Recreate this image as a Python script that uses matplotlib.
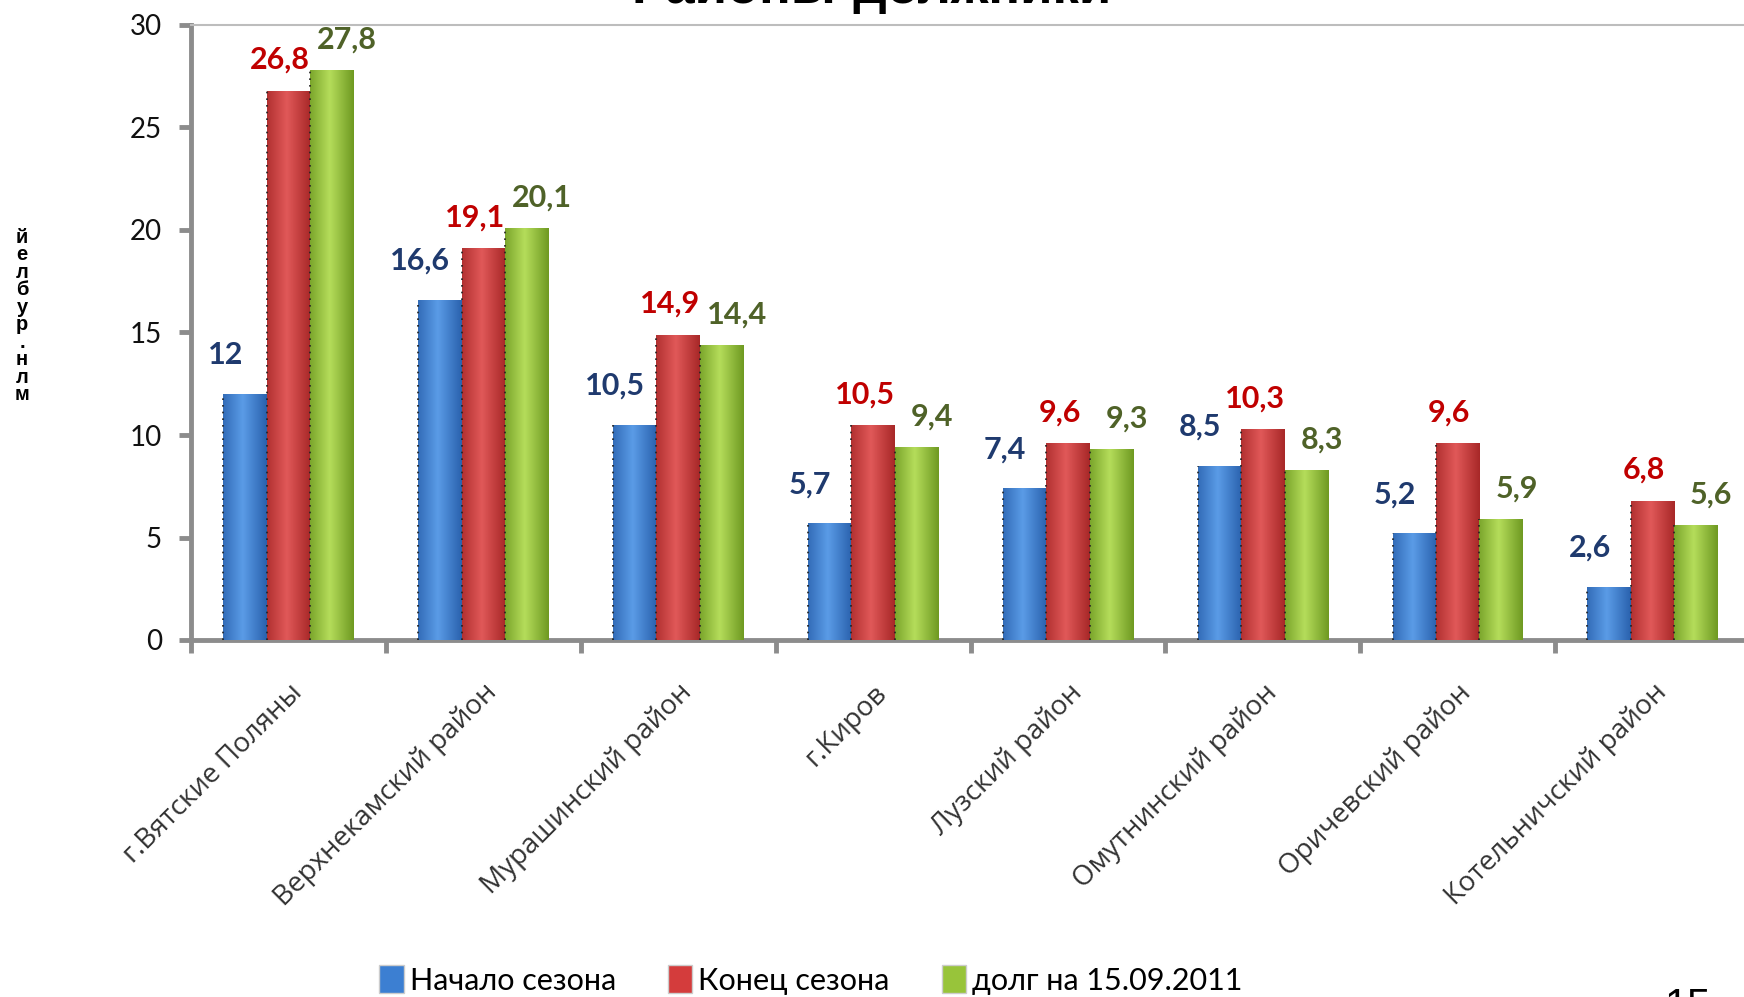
import numpy as np
import matplotlib
matplotlib.use("Agg")
import matplotlib.pyplot as plt
from matplotlib.colors import LinearSegmentedColormap
from matplotlib.patches import Patch

categories = ["г.Вятские Поляны", "Верхнекамский район", "Мурашинский район", "г.Киров",
              "Лузский район", "Омутнинский район", "Оричевский район", "Котельничский район"]
start_season = [12, 16.6, 10.5, 5.7, 7.4, 8.5, 5.2, 2.6]
end_season = [26.8, 19.1, 14.9, 10.5, 9.6, 10.3, 9.6, 6.8]
debt = [27.8, 20.1, 14.4, 9.4, 9.3, 8.3, 5.9, 5.6]
series_names = ["Начало сезона", "Конец сезона", "долг на 15.09.2011"]
yticks = [0, 5, 10, 15, 20, 25, 30]

W, H = 1744, 997
fig = plt.figure(figsize=(W / 100, H / 100), dpi=100)
ax = fig.add_axes([191 / W, 1 - 640 / H, (1750 - 191) / W, (640 - 25) / H])

x = np.arange(len(categories))
bw = 0.223
series = [start_season, end_season, debt]
fills = ["#3c7fd2", "#d43c3c", "#98c43a"]
grads = [("#2a62ae", "#5a9be6"), ("#a82828", "#e05858"), ("#6f9a22", "#b4dc5a")]
label_cols = ["#1f3a6e", "#c00000", "#4f6228"]
offsets = [(-14, 28), (-6, 22), (11, 22)]

grad = np.linspace(0, 1, 64)
grad = 1 - np.abs(grad - 0.45) * 1.6
grad = np.clip(grad, 0, 1)[None, :]

for i, (vals, fc, gc, lc, off) in enumerate(zip(series, fills, grads, label_cols, offsets)):
    bars = ax.bar(x + (i - 1) * bw, vals, bw, color=fc, edgecolor="none", zorder=2)
    cmap = LinearSegmentedColormap.from_list(f"g{i}", [gc[0], gc[1]])
    for b, v in zip(bars, vals):
        x0, w, h = b.get_x(), b.get_width(), b.get_height()
        im = ax.imshow(grad, cmap=cmap, aspect="auto", extent=(x0, x0 + w, 0, h),
                       zorder=3, interpolation="bicubic")
        im.set_clip_path(b)
        ax.plot([x0, x0], [0, h], color="#222222", lw=1.2, ls=(0, (1, 3)), zorder=4)
        ax.annotate(f"{v:g}".replace(".", ","), xy=(x0 + w / 2, h), xytext=off,
                    textcoords="offset points", ha="center", va="center",
                    fontsize=22, fontweight="bold", color=lc, family="Lato", zorder=5)

ax.set_xlim(-0.5, len(categories) - 0.5)
ax.set_ylim(0, 30)
ax.set_yticks(yticks)
ax.set_yticklabels([str(t) for t in yticks], fontsize=20, family="Lato", color="#111111")
ax.set_xticks(x)
ax.set_xticklabels(categories, rotation=45, ha="right", rotation_mode="anchor",
                   fontsize=20, family="Open Sans", color="#333333")
ax.tick_params(axis="x", which="major", length=0, pad=28)
ax.set_xticks(np.arange(len(categories) + 1) - 0.5, minor=True)
ax.tick_params(axis="x", which="minor", length=9, width=3.5, color="#8c8c8c", direction="out")
ax.tick_params(axis="y", length=9, width=3.5, color="#8c8c8c", pad=12)

for s in ["left", "bottom"]:
    ax.spines[s].set_color("#8c8c8c")
    ax.spines[s].set_linewidth(3.5)
ax.spines["right"].set_visible(False)
ax.spines["top"].set_color("#bdbdbd")
ax.spines["top"].set_linewidth(1.5)
ax.set_facecolor("white")

fig.text(0.5, 0.997, "Районы-должники", ha="center", va="baseline", fontsize=38,
         fontweight="bold", family="Liberation Sans", color="black")

ylab = "млн.рублей"[::-1]
fig.text(22 / W, 1 - 316 / H, "\n".join(ylab), ha="center", va="center", fontsize=14.5,
         fontweight="bold", family="Liberation Sans", linespacing=0.9)

handles = [Patch(facecolor=c, edgecolor="#cccccc") for c in fills]
fig.legend(handles, series_names, loc="center", bbox_to_anchor=(0.465, 0.017), ncol=3,
           frameon=False, prop={"family": "Lato", "size": 22}, handlelength=0.8,
           handleheight=1.0, handletextpad=0.2, columnspacing=1.7)

fig.text(1665 / W, 10 / H, "15", ha="left", va="top", fontsize=30, family="Liberation Sans")

fig.savefig("out.png", dpi=100)
